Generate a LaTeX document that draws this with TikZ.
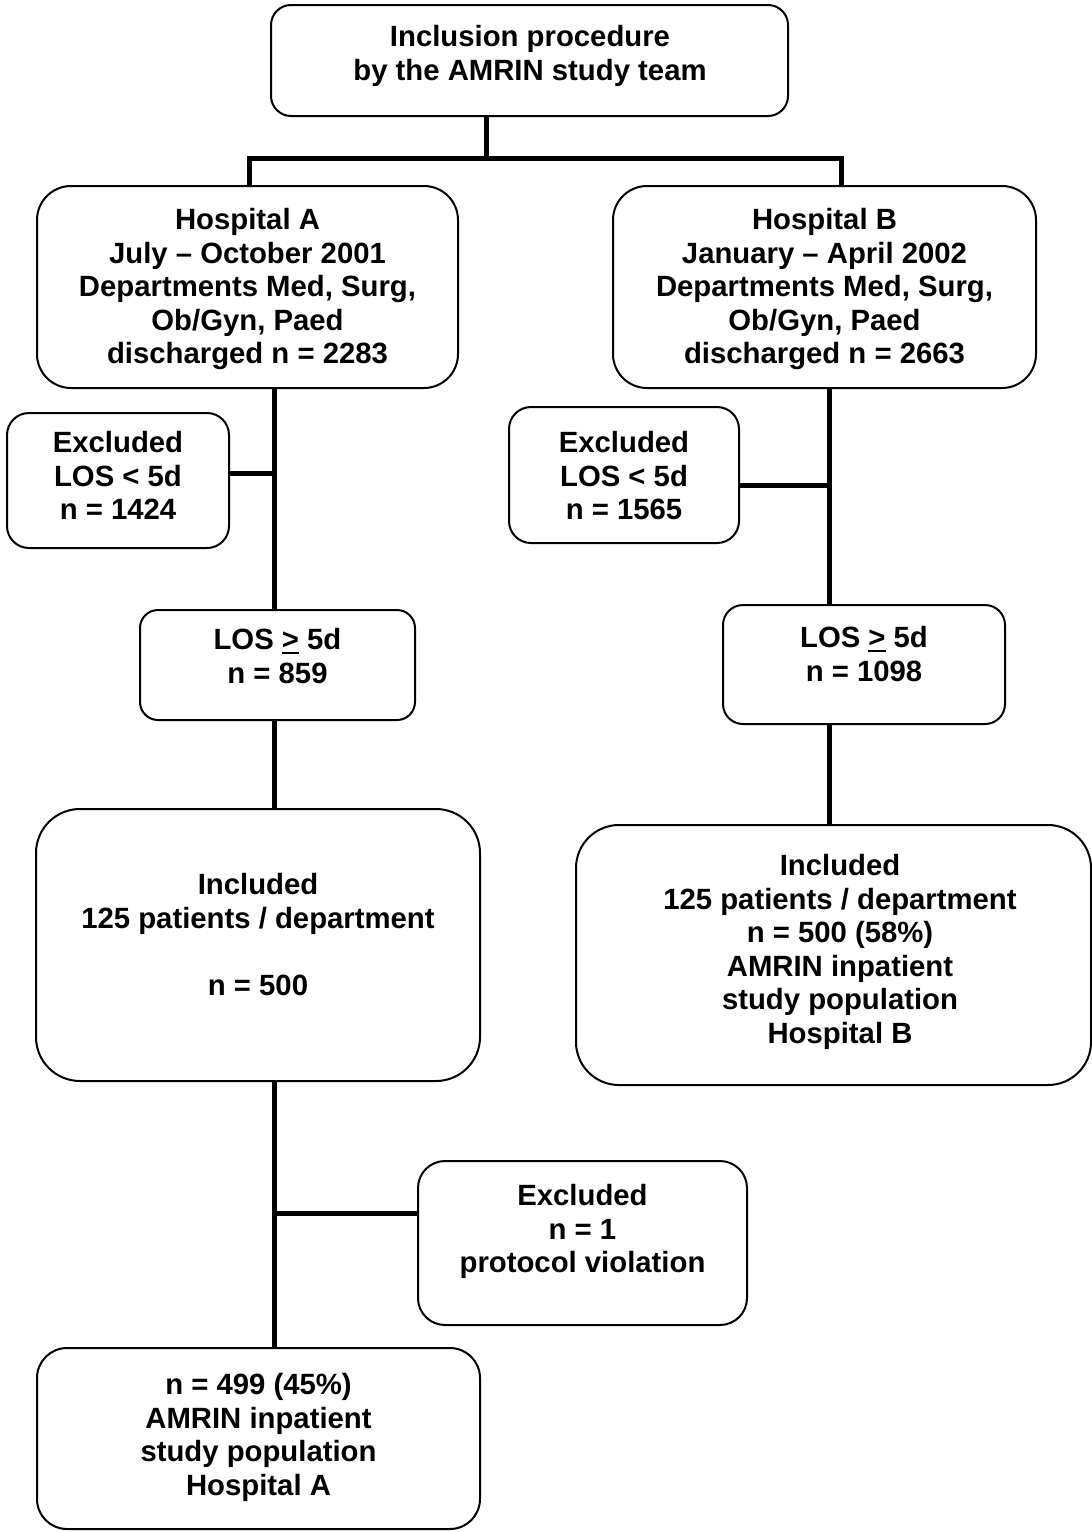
\documentclass[tikz,border=0pt]{standalone}
\usepackage{fontspec}
\setmainfont{Liberation Sans}
\newcommand{\ugt}{\setbox0\hbox{>}\rlap{\rule[-5pt]{\wd0}{2.5pt}}\box0}
\begin{document}
\begin{tikzpicture}[x=1pt,y=-1pt,
  box/.style={draw=black, line width=2pt, fill=white, inner sep=0pt, rectangle},
  conn/.style={draw=black, line width=5pt},
  txt/.style={font=\bfseries\fontsize{29.3}{33.6}\selectfont, align=center, inner sep=0pt, anchor=north}]
\useasboundingbox (0,0) rectangle (1092,1532);
\fill[white] (0,0) rectangle (1092,1532);

% boxes
\node[box, minimum width=517, minimum height=111, rounded corners=20] (top) at (529.5,60.5) {};
\node[box, minimum width=421, minimum height=202, rounded corners=34] (hA) at (247.5,287) {};
\node[box, minimum width=423, minimum height=202, rounded corners=34] (hB) at (824.5,287) {};
\node[box, minimum width=222, minimum height=135, rounded corners=22] (exA) at (118,480.5) {};
\node[box, minimum width=230, minimum height=136, rounded corners=22] (exB) at (624,475) {};
\node[box, minimum width=275, minimum height=110, rounded corners=18] (losA) at (277.5,665) {};
\node[box, minimum width=282, minimum height=119, rounded corners=20] (losB) at (864,664.5) {};
\node[box, minimum width=444, minimum height=272, rounded corners=44] (incA) at (258,945) {};
\node[box, minimum width=515, minimum height=260, rounded corners=43] (incB) at (833.5,955) {};
\node[box, minimum width=329, minimum height=164, rounded corners=27] (exP) at (582.5,1243) {};
\node[box, minimum width=443, minimum height=181, rounded corners=30] (finA) at (258.5,1438.5) {};

% texts
\node[txt] (tTop) at (530,25) {Inclusion procedure\\by the AMRIN study team};
\node[txt] (tHA) at (247.5,208) {Hospital A\\July – October 2001\\Departments Med, Surg,\\Ob/Gyn, Paed\\discharged n = 2283};
\node[txt] (tHB) at (824.5,208) {Hospital B\\January – April 2002\\Departments Med, Surg,\\Ob/Gyn, Paed\\discharged n = 2663};
\node[txt] (tExA) at (118,431) {Excluded\\LOS < 5d\\n = 1424};
\node[txt] (tExB) at (624,431) {Excluded\\LOS < 5d\\n = 1565};
\node[txt] (tLosA) at (277.5,628) {LOS \ugt{} 5d\\n = 859};
\node[txt] (tLosB) at (864,626) {LOS \ugt{} 5d\\n = 1098};
\node[txt] (tIncA) at (258,873) {Included\\125 patients / department\\[33.6pt]n = 500};
\node[txt] (tIncB) at (840,854) {Included\\125 patients / department\\n = 500 (58\%)\\AMRIN inpatient\\study population\\Hospital B};
\node[txt] (tExP) at (582.5,1184) {Excluded\\n = 1\\protocol violation};
\node[txt] (tFinA) at (258.5,1373) {n = 499 (45\%)\\AMRIN inpatient\\study population\\Hospital A};

% connectors
\coordinate (jTop) at (486,158);
\coordinate (jL) at (249,158);
\coordinate (jR) at (841,158);
\coordinate (cA) at (274,0);
\coordinate (cB) at (829,0);
\draw[conn] (top.south -| jTop) -- (jTop);
\draw[conn] (hA.north -| jL) |- (jR) -- (hB.north -| jR);
\draw[conn] (hA.south -| cA) -- (losA.north -| cA);
\draw[conn] (losA.south -| cA) -- (incA.north -| cA);
\draw[conn] (incA.south -| cA) -- (finA.north -| cA);
\draw[conn] ([yshift=7.5pt]exA.east) -- ([yshift=7.5pt]exA.east -| cA);
\draw[conn] (hB.south -| cB) -- (losB.north -| cB);
\draw[conn] (losB.south -| cB) -- (incB.north -| cB);
\draw[conn] ([yshift=-10pt]exB.east) -- ([yshift=-10pt]exB.east -| cB);
\draw[conn] ([yshift=30pt]exP.west) -- ([yshift=30pt]exP.west -| cA);
\end{tikzpicture}
\end{document}
